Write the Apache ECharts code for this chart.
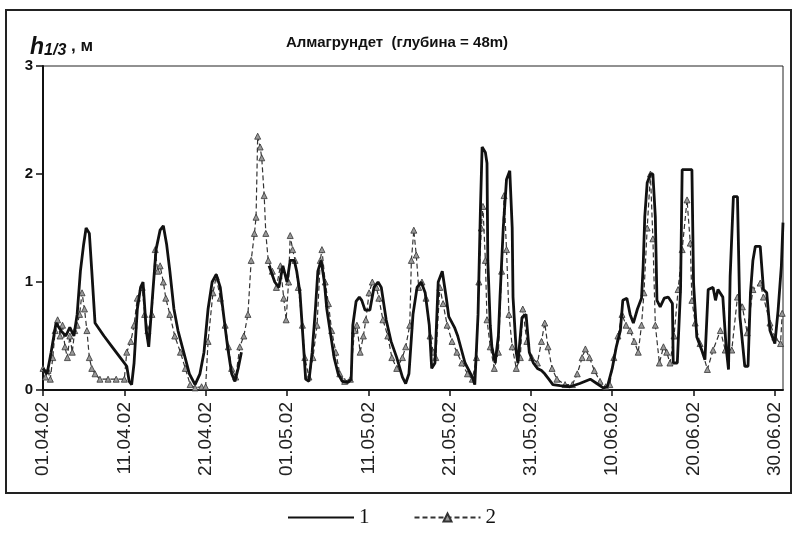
<!DOCTYPE html>
<html>
<head>
<meta charset="utf-8">
<script src="https://cdn.jsdelivr.net/npm/echarts@6/dist/echarts.min.js"></script>
<style>
  html, body { margin: 0; padding: 0; background: #fff; }
  #chart { width: 793px; height: 537px; }
</style>
</head>
<body>
<div id="chart"></div>
<script>
// подписи оси X (каждые 10 суток от 01.04.02)
var dateLabels = ["01.04.02", "11.04.02", "21.04.02", "01.05.02", "11.05.02",
                  "21.05.02", "31.05.02", "10.06.02", "20.06.02", "30.06.02"];
var yTicks = [0, 1, 2, 3];

// ряд 1 (сплошная линия): [сутки от 01.04, h1/3]
var series1 = [
  [0,0.2],[0.5,0.15],[1,0.35],[1.6,0.62],[2.2,0.55],[2.8,0.5],[3.3,0.58],[3.8,0.5],[4.2,0.7],[4.6,1.1],
  [5.0,1.35],[5.3,1.5],[5.7,1.45],[6.0,1.1],[6.4,0.62],[7.5,0.5],[8.5,0.4],[9.5,0.3],[10.3,0.22],[10.6,0.08],
  [10.9,0.05],[11.2,0.25],[11.6,0.75],[12.0,0.95],[12.3,1.0],[12.7,0.55],[13.0,0.4],[13.4,0.8],[13.9,1.3],[14.4,1.48],
  [14.8,1.52],[15.2,1.35],[15.6,1.1],[16.1,0.75],[16.6,0.55],[17.3,0.35],[18.0,0.15],[18.7,0.05],[19.3,0.15],[19.8,0.35],
  [20.3,0.75],[20.8,1.0],[21.3,1.07],[21.8,0.95],[22.2,0.7],[22.7,0.4],[23.2,0.15],[23.6,0.08],[24.0,0.2],[24.4,0.35],
  [25,null],
  [27.8,1.15],[28.5,1.0],[29,0.95],[29.5,1.15],[30,1.0],[30.4,1.2],[30.9,1.2],[31.2,1.1],[31.6,0.9],[32,0.45],
  [32.3,0.1],[32.7,0.08],[33.1,0.35],[33.5,0.75],[33.8,1.1],[34.2,1.2],[34.6,1.0],[34.9,0.75],[35.3,0.55],[35.8,0.3],
  [36.3,0.15],[36.8,0.08],[37.5,0.07],[37.9,0.1],[38.1,0.6],[38.5,0.82],[38.9,0.86],[39.2,0.83],[39.6,0.74],[40.2,0.74],
  [40.7,0.95],[41.2,1.0],[41.6,0.95],[42.2,0.65],[42.8,0.45],[43.5,0.3],[44.2,0.12],[44.6,0.06],[45,0.15],[45.5,0.7],
  [46,0.95],[46.5,1.0],[47,0.9],[47.5,0.6],[47.8,0.2],[48.2,0.25],[48.6,1.0],[49.1,1.1],[49.6,0.85],[49.9,0.68],
  [50.6,0.58],[51,0.5],[51.9,0.25],[52.8,0.12],[53.1,0.05],[53.5,0.7],[53.8,1.7],[54,2.25],[54.4,2.2],[54.6,2.1],
  [54.7,1.2],[55,0.6],[55.2,0.4],[55.6,0.25],[56,0.5],[56.2,0.86],[56.6,1.5],[57,1.95],[57.4,2.03],[57.7,1.5],
  [57.8,0.86],[58.2,0.35],[58.4,0.25],[58.9,0.67],[59.4,0.7],[59.8,0.35],[60.3,0.25],[60.8,0.2],[61.3,0.18],[61.7,0.15],
  [62.2,0.1],[62.7,0.05],[63.6,0.04],[64.8,0.03],[66,0.06],[67.3,0.1],[68.1,0.06],[68.9,0.02],[69.4,0.03],[70,0.2],
  [70.5,0.4],[71,0.55],[71.3,0.83],[71.8,0.85],[72.2,0.7],[72.6,0.62],[73.1,0.75],[73.6,0.85],[73.8,1.14],[74,1.6],
  [74.3,1.92],[74.7,2.0],[75,2.0],[75.3,1.6],[75.5,0.83],[75.9,0.77],[76.4,0.85],[76.9,0.86],[77.4,0.8],[77.5,0.25],
  [78,0.25],[78.4,0.93],[78.6,2.04],[79.2,2.04],[79.8,2.04],[80,0.99],[80.4,0.49],[81,0.37],[81.4,0.28],[81.8,0.93],
  [82.4,0.95],[82.7,0.83],[83,0.93],[83.6,0.86],[84,0.4],[84.3,0.19],[84.5,1.05],[84.9,1.79],[85.4,1.79],[85.7,0.68],
  [86.3,0.22],[86.7,0.22],[87,0.9],[87.3,1.2],[87.6,1.33],[88.2,1.33],[88.6,0.93],[89,0.9],[89.4,0.55],[90,0.43],
  [90.4,0.74],[90.8,1.15],[91,1.55]
];

// ряд 2 (пунктир с треугольниками)
var series2 = [
  [0,0.2],[0.3,0.12],[0.6,0.18],[0.9,0.1],[1.2,0.3],[1.5,0.55],[1.8,0.65],[2.1,0.5],[2.4,0.6],[2.7,0.4],
  [3.0,0.3],[3.3,0.5],[3.6,0.35],[3.9,0.55],[4.2,0.6],[4.5,0.7],[4.8,0.9],[5.1,0.75],[5.4,0.55],[5.7,0.3],
  [6.0,0.2],[6.4,0.15],[7,0.1],[8,0.1],[9,0.1],[10,0.1],[10.3,0.35],[10.8,0.45],[11.2,0.6],[11.6,0.85],
  [12.2,0.95],[12.5,0.7],[12.9,0.55],[13.4,0.7],[13.8,1.3],[14.1,1.1],[14.4,1.15],[14.8,1.0],[15.1,0.85],[15.6,0.7],
  [16.2,0.5],[16.9,0.35],[17.5,0.2],[18.1,0.05],[18.7,0.02],[19.5,0.03],[20,0.03],[20.3,0.45],[20.9,0.9],[21.3,1.05],
  [21.8,0.85],[22.4,0.6],[22.8,0.4],[23.2,0.2],[23.7,0.12],[24.2,0.4],[24.7,0.5],[25.2,0.7],[25.6,1.2],[26,1.45],
  [26.2,1.6],[26.4,2.35],[26.7,2.25],[26.9,2.15],[27.2,1.8],[27.4,1.45],[27.7,1.2],[28.2,1.1],[28.7,0.95],[29.2,1.15],
  [29.6,0.85],[29.9,0.65],[30.2,1.0],[30.4,1.43],[30.7,1.3],[31,1.2],[31.4,0.95],[31.9,0.6],[32.2,0.3],[32.7,0.12],
  [33.2,0.3],[33.7,0.6],[34.1,1.2],[34.3,1.3],[34.7,1.0],[35.1,0.8],[35.5,0.55],[36,0.35],[36.5,0.15],[37.1,0.08],
  [37.8,0.1],[38.3,0.55],[38.6,0.6],[39,0.35],[39.4,0.5],[39.7,0.65],[40.1,0.9],[40.5,1.0],[41,0.95],[41.3,0.85],
  [41.8,0.65],[42.4,0.5],[42.9,0.3],[43.5,0.2],[44.2,0.3],[44.6,0.4],[45.1,0.6],[45.3,1.2],[45.6,1.48],[45.9,1.25],
  [46.2,0.95],[46.6,1.0],[47.1,0.85],[47.6,0.5],[48,0.35],[48.3,0.3],[48.8,0.95],[49.2,0.8],[49.7,0.6],[50.3,0.45],
  [50.9,0.35],[51.5,0.25],[52.2,0.15],[52.8,0.1],[53.3,0.3],[53.6,1.0],[53.9,1.5],[54.1,1.7],[54.4,1.2],[54.6,0.65],
  [55,0.4],[55.5,0.2],[56,0.35],[56.4,1.1],[56.7,1.8],[57,1.3],[57.3,0.7],[57.7,0.4],[58.2,0.2],[58.7,0.3],
  [59,0.75],[59.5,0.45],[60.1,0.3],[60.8,0.25],[61.3,0.45],[61.7,0.62],[62.1,0.4],[62.6,0.2],[63.2,0.1],[64.2,0.05],
  [65.1,0.05],[65.7,0.15],[66.3,0.3],[66.7,0.38],[67.2,0.3],[67.8,0.18],[68.5,0.08],[69.2,0.03],[69.7,0.05],[70.2,0.3],
  [70.7,0.5],[71.2,0.7],[71.7,0.6],[72.2,0.55],[72.7,0.45],[73.2,0.35],[73.6,0.6],[73.9,0.9],[74.3,1.5],[74.7,2.0],
  [75,1.4],[75.3,0.6],[75.8,0.25],[76.3,0.4],[76.7,0.35],[77.1,0.25],[77.6,0.5],[78.1,0.93],[78.6,1.3],[79.2,1.76],
  [79.6,1.36],[79.8,0.83],[80.2,0.62],[80.8,0.43],[81.7,0.19],[82.4,0.37],[83.3,0.55],[83.9,0.37],[84.7,0.37],[85.4,0.86],
  [86,0.77],[86.6,0.53],[87.3,0.93],[88.2,0.99],[88.6,0.86],[89.4,0.62],[90,0.49],[90.7,0.43],[90.9,0.71]
];

var tickDays = dateLabels.map(function (d, i) { return i * 10; });

var myChart = echarts.init(document.getElementById("chart"));

var option = {
  animation: false,
  backgroundColor: "#fff",
  title: [
    {
      text: "Алмагрундет  (глубина = 48m)",
      left: 392,
      textAlign: "center",
      top: 30,
      textStyle: { fontFamily: "Liberation Sans", fontWeight: "bold", fontSize: 15, color: "#111" }
    },
    {
      text: "{h|h}{s|1/3}{m| , м}",
      left: 25,
      top: 28,
      textStyle: {
        rich: {
          h: { fontFamily: "Liberation Sans", fontStyle: "italic", fontSize: 23, color: "#111", verticalAlign: "bottom" },
          s: { fontFamily: "Liberation Sans", fontStyle: "italic", fontWeight: "bold", fontSize: 16, color: "#111", padding: [10, 0, 0, 0] },
          m: { fontFamily: "Liberation Sans", fontWeight: "bold", fontSize: 17, color: "#111" }
        }
      }
    }
  ],
  legend: {
    data: [
      { name: "1", itemStyle: { opacity: 0 } },
      { name: "2" }
    ],
    bottom: 4,
    left: 282,
    itemWidth: 66,
    itemHeight: 10,
    itemGap: 44,
    textStyle: { fontFamily: "Liberation Serif", fontSize: 21, color: "#111" }
  },
  grid: {
    left: 43,
    right: 10,
    top: 66,
    bottom: 147,
    show: true,
    borderColor: "#222",
    borderWidth: 1
  },
  xAxis: {
    type: "value",
    min: 0,
    max: 91,
    interval: 10,
    splitLine: { show: false },
    axisLine: { onZero: false, lineStyle: { color: "#111", width: 2 } },
    axisTick: { customValues: tickDays, length: 6, lineStyle: { color: "#111", width: 1.5 } },
    axisLabel: {
      customValues: tickDays,
      rotate: 90,
      margin: 12,
      fontFamily: "Liberation Sans",
      fontSize: 19,
      color: "#222",
      formatter: function (v) { return dateLabels[Math.round(v / 10)] || ""; }
    }
  },
  yAxis: {
    type: "value",
    min: 0,
    max: 3,
    interval: 1,
    splitLine: { show: false },
    axisLine: { lineStyle: { color: "#111", width: 2 } },
    axisTick: { length: 7, lineStyle: { color: "#111", width: 1.5 } },
    axisLabel: {
      customValues: yTicks,
      margin: 10,
      fontFamily: "Liberation Sans",
      fontWeight: "bold",
      fontSize: 15,
      color: "#111"
    }
  },
  series: [
    {
      name: "2",
      type: "line",
      data: series2,
      z: 2,
      symbol: "triangle",
      symbolSize: 6,
      itemStyle: { color: "#999", borderColor: "#333", borderWidth: 0.8 },
      lineStyle: { color: "#333", width: 1.2, type: [5, 3] }
    },
    {
      name: "1",
      type: "line",
      data: series1,
      z: 3,
      symbol: "none",
      connectNulls: false,
      itemStyle: { color: "#111" },
      lineStyle: { color: "#111", width: 2.8 }
    }
  ],
  graphic: [
    {
      type: "rect",
      shape: { x: 6, y: 10, width: 785, height: 483 },
      style: { fill: null, stroke: "#222", lineWidth: 2 },
      silent: true
    }
  ]
};

myChart.setOption(option);
</script>
</body>
</html>
